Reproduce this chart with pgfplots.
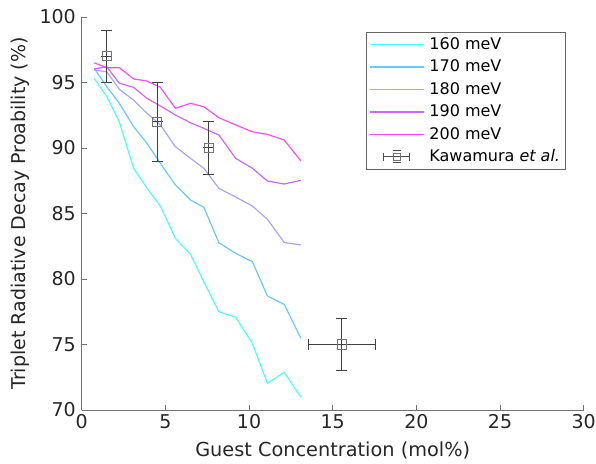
\documentclass[border=0pt]{standalone}
\usepackage{fontspec}
\setmainfont{DejaVu Sans}
\usepackage{pgfplots}
\pgfplotsset{compat=1.18}
\definecolor{cA}{rgb}{0.3,1,1}
\definecolor{cB}{rgb}{0.42,0.78,1}
\definecolor{cC}{rgb}{0.65,0.65,1}
\definecolor{cD}{rgb}{0.8,0.4,1}
\definecolor{cE}{rgb}{1,0.3,1}
\begin{document}
\fontsize{17}{20}\selectfont
\begin{tikzpicture}
\begin{axis}[
  scale only axis, width=502pt, height=393pt,
  xmin=0, xmax=30, ymin=70, ymax=100,
  axis x line*=bottom, axis y line*=left,
  xtick={0,5,...,30}, ytick={70,75,...,100},
  tick align=inside, major tick length=5pt,
  axis line style={draw=black!55, line width=0.8pt},
  tick style={draw=black!55, line width=0.8pt},
  /pgf/number format/assume math mode=true,
  tick label style={font=\fontsize{19}{22}\selectfont, text=black!85},
  xticklabel style={yshift=1pt},
  xlabel={Guest Concentration (mol\%)},
  ylabel={Triplet Radiative Decay Proability (\%)},
  xlabel style={font=\fontsize{19.3}{23}\selectfont, text=black!85, yshift=-1pt},
  ylabel style={font=\fontsize{19}{22}\selectfont, text=black!85, yshift=-1pt},
  legend style={at={(0.566,0.963)}, anchor=north west, draw=black!60, line width=0.8pt,
    font=\fontsize{16}{19}\selectfont, row sep=4pt, column sep=3pt,
    inner xsep=3pt, inner ysep=3.5pt},
  legend cell align=left,
  legend image code/.code={\draw[#1] (0pt,0pt) -- (54pt,0pt);},
  clip=false,
]
\addplot[cA, line width=1.2pt] coordinates {
(0.75,95.32)(1.5,93.92)(2.25,92.01)(3.1,88.45)(3.9,86.95)(4.7,85.57)(5.6,83.11)(6.5,81.89)(7.3,79.79)(8.2,77.50)(9.2,77.08)(10.2,75.09)(11.1,72.04)(12.1,72.88)(13.1,70.97)};
\addlegendentry{160 meV}
\addplot[cB, line width=1.2pt] coordinates {
(0.75,96.08)(1.5,94.68)(2.25,93.41)(3.1,91.63)(3.9,90.36)(4.7,88.83)(5.6,87.18)(6.5,86.03)(7.3,85.47)(8.2,82.77)(9.2,81.96)(10.2,81.32)(11.1,78.70)(12.1,78.07)(13.1,75.47)};
\addlegendentry{170 meV}
\addplot[cC, line width=1.2pt] coordinates {
(0.75,95.95)(1.5,95.82)(2.25,94.48)(3.1,93.66)(3.9,92.65)(4.7,91.76)(5.6,90.10)(6.5,89.21)(7.3,88.45)(8.2,86.92)(9.2,86.26)(10.2,85.57)(11.1,84.56)(12.1,82.79)(13.1,82.60)};
\addlegendentry{180 meV}
\addplot[cD, line width=1.2pt] coordinates {
(0.75,96.03)(1.5,96.2)(2.25,94.94)(3.1,94.63)(3.9,93.79)(4.7,93.21)(5.6,92.52)(6.5,91.93)(7.3,91.50)(8.2,90.99)(9.2,89.21)(10.2,88.45)(11.1,87.48)(12.1,87.25)(13.1,87.53)};
\addlegendentry{190 meV}
\addplot[cE, line width=1.2pt] coordinates {
(0.75,96.5)(1.5,96.13)(2.25,96.13)(3.1,95.27)(3.9,95.11)(4.7,94.63)(5.6,93.03)(6.5,93.41)(7.3,93.15)(8.2,92.31)(9.2,91.76)(10.2,91.24)(11.1,91.04)(12.1,90.61)(13.1,89.01)};
\addlegendentry{200 meV}
\addplot[black!45, line width=1pt, only marks, mark=square, mark size=4.6pt,
  mark options={draw=black!55, line width=1pt, fill=none},
  legend image code/.code={
    \draw[black!70, line width=1pt] (14pt,0pt) -- (40pt,0pt);
    \draw[black!70, line width=1pt] (14pt,-4pt) -- (14pt,4pt);
    \draw[black!70, line width=1pt] (40pt,-4pt) -- (40pt,4pt);
    \draw[black!70, line width=1pt] (23pt,6pt) -- (31pt,6pt);
    \draw[black!70, line width=1pt] (23pt,-6pt) -- (31pt,-6pt);
    \draw[black!55, line width=1pt] (23.5pt,-3.5pt) rectangle (30.5pt,3.5pt);
  },
  error bars/.cd, x dir=both, x explicit, y dir=both, y explicit,
  error mark=|,
  error bar style={black!75, line width=1pt},
  error mark options={black!75, line width=1pt, mark size=5.5pt},
  ] coordinates {
(1.5,97) +- (0,2)
(4.5,92) +- (0,3)
(7.6,90) +- (0,2)
(15.55,75) +- (2,2)};
\addlegendentry{Kawamura \textit{et al.}}
\end{axis}
\pgfresetboundingbox
\path[use as bounding box] (-81.7pt,-53pt) rectangle (514.3pt,410pt);
\end{tikzpicture}
\end{document}
